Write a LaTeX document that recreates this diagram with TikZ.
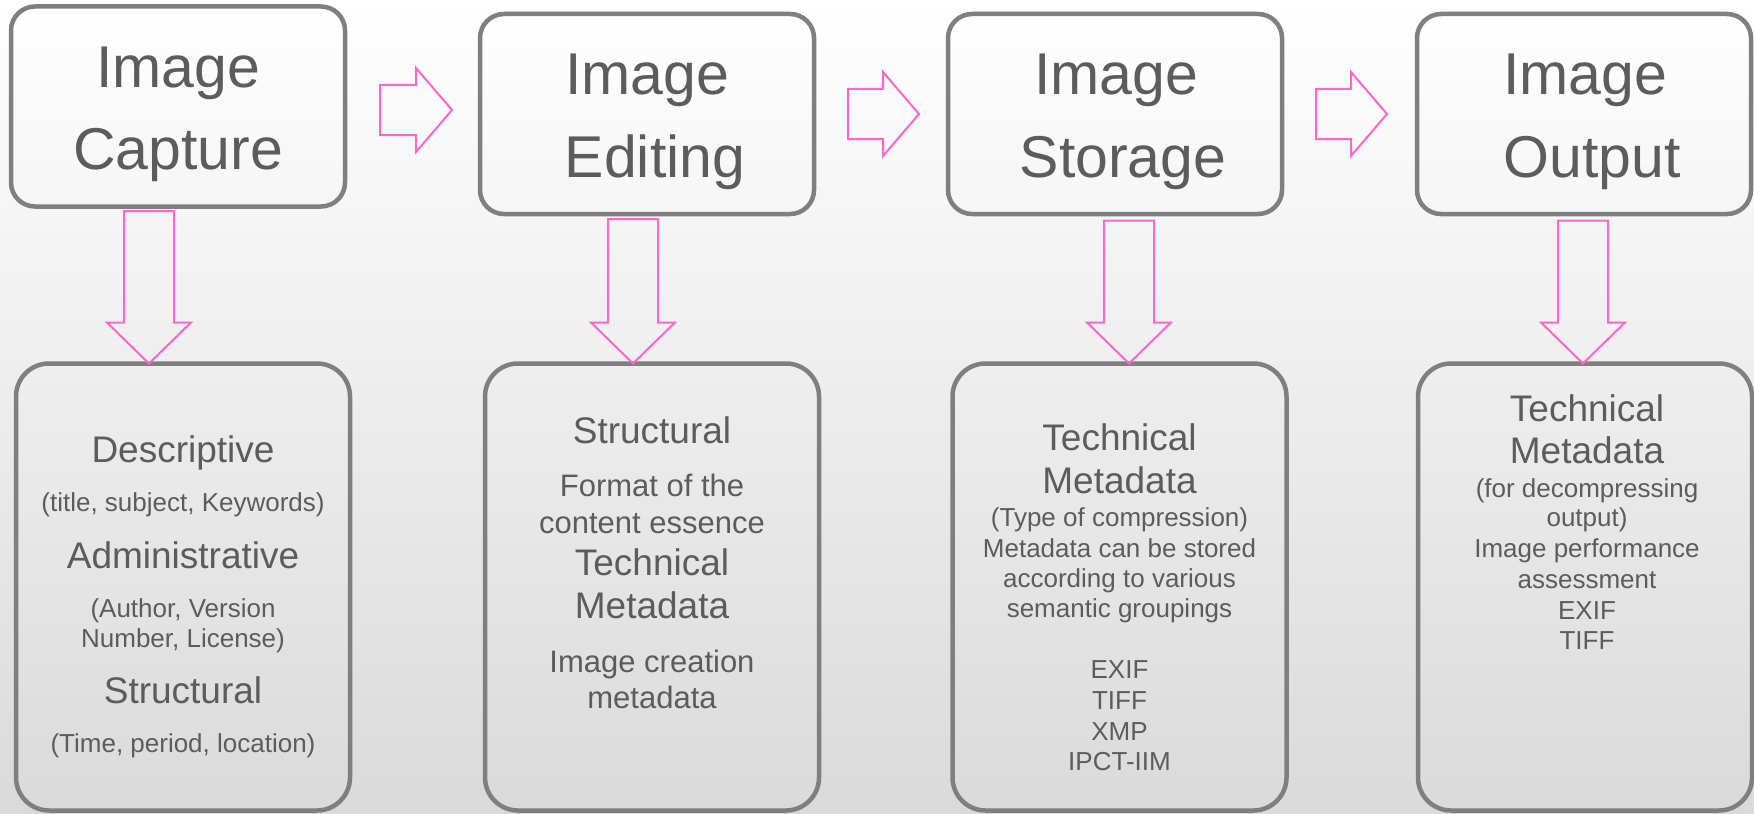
\documentclass[tikz,border=0pt]{standalone}
\usepackage{fontspec}
\setmainfont{Liberation Sans}
\usetikzlibrary{calc}

\definecolor{boxgray}{RGB}{127,127,127}
\definecolor{txtgray}{RGB}{92,92,92}
\definecolor{arrowpink}{RGB}{255,102,204}
\definecolor{bggray}{RGB}{218,218,218}

\begin{document}
\begin{tikzpicture}[x=0.5pt,y=-0.5pt,inner sep=0pt]
  % Styles
  \tikzset{stage/.style={draw=boxgray,line width=2.25pt,rounded corners=12pt,
             minimum width=167pt,minimum height=100pt,outer sep=0pt},
           infobox/.style={stage,rounded corners=16.5pt,minimum height=223.5pt},
           stagetitle/.style={anchor=base,text=txtgray,font=\fontsize{29.5}{35}\selectfont},
           group/.style={anchor=base,text=txtgray,font=\fontsize{18.5}{22}\selectfont},
           item/.style={anchor=base,text=txtgray,font=\fontsize{15.5}{18}\selectfont},
           detail/.style={anchor=base,text=txtgray,font=\fontsize{13}{15.5}\selectfont},
           blockdown/.style={draw=arrowpink,line width=1pt,
             to path={($(\tikztostart)+(-25,0)$) -- ($(\tikztotarget)+(-25,-41)$)
               -- ($(\tikztotarget)+(-42,-41)$) -- (\tikztotarget)
               -- ($(\tikztotarget)+(42,-41)$) -- ($(\tikztotarget)+(25,-41)$)
               -- ($(\tikztostart)+(25,0)$) -- cycle}},
           blockright/.style={draw=arrowpink,line width=1pt,
             to path={($(\tikztostart)+(0,-25)$) -- ($(\tikztotarget)+(-36,-25)$)
               -- ($(\tikztotarget)+(-36,-42)$) -- (\tikztotarget)
               -- ($(\tikztotarget)+(-36,42)$) -- ($(\tikztotarget)+(-36,25)$)
               -- ($(\tikztostart)+(0,25)$) -- cycle}}}

  % Background (white fading to light grey)
  \useasboundingbox (0,0) rectangle (1754,813);
  \shade[top color=white,bottom color=bggray] (0,0) rectangle (1754,813);

  % Stages of the workflow
  \node[stage] (cap) at (178,106.5) {};
  \node[stage] (edit) at (647,114) {};
  \node[stage] (store) at (1115,114) {};
  \node[stage] (out) at (1584,114) {};

  \node[stagetitle] (capA) at ($(cap.north)+(0,81)$) {Image};
  \node[stagetitle] (capB) at ($(cap.north)+(0,163)$) {Capture};
  \node[stagetitle] (editA) at ($(edit.north)+(0,81)$) {Image};
  \node[stagetitle] (editB) at ($(edit.north)+(8,163)$) {Editing};
  \node[stagetitle] (storeA) at ($(store.north)+(1,81)$) {Image};
  \node[stagetitle] (storeB) at ($(store.north)+(8,163)$) {Storage};
  \node[stagetitle] (outA) at ($(out.north)+(1,81)$) {Image};
  \node[stagetitle] (outB) at ($(out.north)+(8,163)$) {Output};

  % Metadata boxes below each stage
  \node[infobox] (capinfo) at (183,587) {};
  \node[infobox] (editinfo) at (652,587) {};
  \node[infobox] (storeinfo) at (1119.5,587) {};
  \node[infobox] (outinfo) at (1585,587) {};

  % capture: descriptive / administrative / structural
  \node[group] (ci1) at ($(capinfo.north)+(0,99)$) {Descriptive};
  \node[detail] (ci2) at ($(capinfo.north)+(0,148)$) {(title, subject, Keywords)};
  \node[group] (ci3) at ($(capinfo.north)+(0,205)$) {Administrative};
  \node[detail] (ci4) at ($(capinfo.north)+(0,254)$) {(Author, Version};
  \node[detail] (ci5) at ($(capinfo.north)+(0,284)$) {Number, License)};
  \node[group] (ci6) at ($(capinfo.north)+(0,340)$) {Structural};
  \node[detail] (ci7) at ($(capinfo.north)+(0,389)$) {(Time, period, location)};

  % editing
  \node[group] (ei1) at ($(editinfo.north)+(0,80)$) {Structural};
  \node[item] (ei2) at ($(editinfo.north)+(0,133)$) {Format of the};
  \node[item] (ei3) at ($(editinfo.north)+(0,170)$) {content essence};
  \node[group] (ei4) at ($(editinfo.north)+(0,212)$) {Technical};
  \node[group] (ei5) at ($(editinfo.north)+(0,255)$) {Metadata};
  \node[item] (ei6) at ($(editinfo.north)+(0,309)$) {Image creation};
  \node[item] (ei7) at ($(editinfo.north)+(0,345)$) {metadata};

  % storage
  \node[group] (si1) at ($(storeinfo.north)+(0,87)$) {Technical};
  \node[group] (si2) at ($(storeinfo.north)+(0,130)$) {Metadata};
  \node[detail] (si3) at ($(storeinfo.north)+(0,163)$) {(Type of compression)};
  \node[detail] (si4) at ($(storeinfo.north)+(0,194)$) {Metadata can be stored};
  \node[detail] (si5) at ($(storeinfo.north)+(0,224)$) {according to various};
  \node[detail] (si6) at ($(storeinfo.north)+(0,254)$) {semantic groupings};
  \node[detail] (si7) at ($(storeinfo.north)+(0,315)$) {EXIF};
  \node[detail] (si8) at ($(storeinfo.north)+(0,346)$) {TIFF};
  \node[detail] (si9) at ($(storeinfo.north)+(0,377)$) {XMP};
  \node[detail] (si10) at ($(storeinfo.north)+(0,407)$) {IPCT-IIM};

  % output
  \node[group] (oi1) at ($(outinfo.north)+(2,58)$) {Technical};
  \node[group] (oi2) at ($(outinfo.north)+(2,100)$) {Metadata};
  \node[detail] (oi3) at ($(outinfo.north)+(2,134)$) {(for decompressing};
  \node[detail] (oi4) at ($(outinfo.north)+(2,163)$) {output)};
  \node[detail] (oi5) at ($(outinfo.north)+(2,194)$) {Image performance};
  \node[detail] (oi6) at ($(outinfo.north)+(2,225)$) {assessment};
  \node[detail] (oi7) at ($(outinfo.north)+(2,256)$) {EXIF};
  \node[detail] (oi8) at ($(outinfo.north)+(2,286)$) {TIFF};

  % Block arrows between the stages
  \coordinate (r1a) at ($(cap.east)+(35,3.5)$);
  \coordinate (r1b) at ($(r1a)+(72,0)$);
  \coordinate (r2a) at ($(edit.east)+(34,0)$);
  \coordinate (r2b) at ($(r2a)+(71,0)$);
  \coordinate (r3a) at ($(store.east)+(34,0)$);
  \coordinate (r3b) at ($(r3a)+(71,0)$);
  \draw[blockright] (r1a) to (r1b);
  \draw[blockright] (r2a) to (r2b);
  \draw[blockright] (r3a) to (r3b);

  % Block arrows down to the metadata boxes
  \coordinate (d1) at ($(cap.south)+(-29,4.5)$);
  \coordinate (d2) at ($(edit.south)+(-14,5)$);
  \coordinate (d3) at ($(store.south)+(14,6.5)$);
  \coordinate (d4) at ($(out.south)+(-1,6.5)$);
  \draw[blockdown] (d1) to (d1 |- capinfo.north);
  \draw[blockdown] (d2) to (d2 |- editinfo.north);
  \draw[blockdown] (d3) to (d3 |- storeinfo.north);
  \draw[blockdown] (d4) to (d4 |- outinfo.north);
\end{tikzpicture}
\end{document}
